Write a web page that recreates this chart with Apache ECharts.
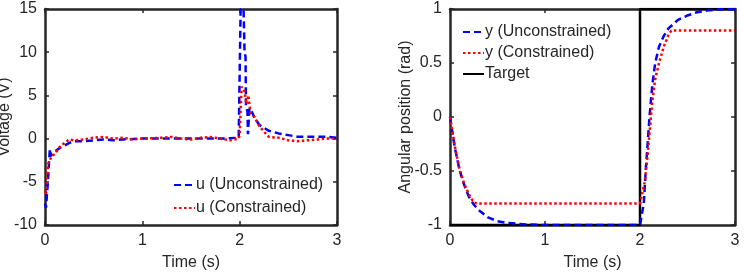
<!DOCTYPE html>
<html>
<head>
<meta charset="utf-8">
<script src="https://cdn.jsdelivr.net/npm/echarts@6/dist/echarts.min.js"></script>
</head>
<body style="margin: 0; background: #fff">
<div id="container" style="width: 745px; height: 272px"></div>
<script>
// left panel: control voltage
var tU = [0, 0.01, 0.02, 0.03, 0.04, 0.05, 0.06, 0.08, 0.1, 0.15, 0.2, 0.25, 0.3, 0.4, 0.5, 0.6, 0.7, 0.8, 1.0, 1.2, 1.4, 1.6, 1.8, 1.99,
          2.0, 2.01, 2.04, 2.05, 2.06, 2.065, 2.08, 2.085, 2.1, 2.12, 2.15, 2.2, 2.3, 2.4, 2.5, 2.6, 2.7, 2.8, 2.9, 3.0];
var uUnc = [-7.5, -8, -7.8, -5, -3, -1.2, -2, -1.8, -1.5, -1.1, -0.8, -0.5, -0.3, -0.3, -0.2, -0.1, -0.2, -0.1, 0, 0, 0, 0, 0, 0.1,
            0.1, 15, 15, 10, 9.5, 3.6, 3.2, 0.5, 3.5, 3.2, 2.5, 1.6, 0.9, 0.6, 0.4, 0.2, 0.2, 0.2, 0.2, 0.1];
var tC = [0, 0.01, 0.02, 0.03, 0.05, 0.07, 0.1, 0.15, 0.2, 0.25, 0.3, 0.4, 0.5, 0.6, 0.7, 0.8, 0.9, 1.0, 1.2, 1.3, 1.4, 1.5, 1.6, 1.7, 1.8, 1.9, 1.99,
          2.0, 2.02, 2.05, 2.07, 2.09, 2.11, 2.15, 2.2, 2.25, 2.3, 2.4, 2.5, 2.6, 2.7, 2.8, 2.9, 3.0];
var uCon = [-6, -6.5, -5, -3, -2.8, -2, -1.8, -1, -0.5, -0.1, -0.2, -0.1, 0.1, 0.2, 0, 0.1, -0.1, 0, 0.1, 0.2, 0, -0.1, 0.1, 0.2, 0, -0.2, 0,
            0.5, 6, 5.5, 4, 5, 3, 2.5, 1.5, 0.8, 0.2, 0.1, -0.2, -0.3, -0.2, -0.1, 0, 0];

// right panel: angular position
var tYU = [0, 0.05, 0.1, 0.15, 0.2, 0.25, 0.3, 0.4, 0.5, 0.6, 0.8, 1.0, 1.5, 2.0, 2.02, 2.04, 2.06, 2.08, 2.1, 2.13, 2.16, 2.2, 2.25, 2.3, 2.4, 2.5, 2.6, 2.7, 2.8, 3.0];
var yUnc = [0, -0.28, -0.49, -0.63, -0.74, -0.81, -0.86, -0.93, -0.965, -0.98, -0.995, -1, -1, -1, -1, -0.8, -0.5, -0.25, 0, 0.3, 0.5, 0.65, 0.75, 0.82, 0.9, 0.94, 0.97, 0.985, 0.995, 1];
var tYC = [0, 0.05, 0.1, 0.15, 0.2, 0.25, 0.28, 2.0, 2.02, 2.05, 2.08, 2.1, 2.13, 2.16, 2.2, 2.25, 2.3, 2.33, 3.0];
var yCon = [0, -0.27, -0.48, -0.62, -0.72, -0.79, -0.8, -0.8, -0.8, -0.6, -0.35, -0.15, 0.15, 0.35, 0.5, 0.65, 0.76, 0.8, 0.8];
var tTarget = [0, 2, 2, 3];
var yTarget = [-1, -1, 1, 1];

function pairs(t, v) {
    return t.map(function (x, i) { return [x, v[i]]; });
}

var font = 'Liberation Sans, Arial, sans-serif';
var ink = '#262626';
var fs = 16;

function frameAxis(gridIndex, pos, min, max, interval, labels, name, nameGap) {
    return {
        type: 'value', gridIndex: gridIndex, position: pos,
        min: min, max: max, interval: interval,
        name: name, nameLocation: 'middle', nameGap: nameGap, nameMoveOverlap: false,
        nameTextStyle: { color: ink, fontSize: fs, fontFamily: font },
        axisLine: { show: true, onZero: false, lineStyle: { color: ink, width: 2.5 } },
        axisTick: { show: true, inside: true, length: 4, lineStyle: { color: ink, width: 1.5 } },
        axisLabel: { show: labels, color: ink, fontSize: fs, fontFamily: font, margin: 8 },
        splitLine: { show: false }
    };
}

var dash = { type: [7, 4], width: 2.5 };
var dot = { type: [2.5, 2.5], width: 2.5 };

function legendBox(left, top, gap, names) {
    return {
        left: left, top: top, orient: 'vertical', itemGap: gap, itemWidth: 21, itemHeight: 10,
        padding: 0,
        itemStyle: { opacity: 0 },
        textStyle: { color: ink, fontSize: fs, fontFamily: font, padding: [0, 0, 0, -4] },
        data: names
    };
}

var option = {
    animation: false,
    grid: [
        { left: 45, top: 9, width: 292, height: 216, outerBoundsMode: 'none', containLabel: false },
        { left: 450, top: 9, width: 285, height: 216, outerBoundsMode: 'none', containLabel: false }
    ],
    xAxis: [
        frameAxis(0, 'bottom', 0, 3, 1, true, 'Time (s)', 30),
        frameAxis(0, 'top', 0, 3, 1, false, '', 0),
        frameAxis(1, 'bottom', 0, 3, 1, true, 'Time (s)', 30),
        frameAxis(1, 'top', 0, 3, 1, false, '', 0)
    ],
    yAxis: [
        frameAxis(0, 'left', -10, 15, 5, true, 'Voltage (V)', 32),
        frameAxis(0, 'right', -10, 15, 5, false, '', 0),
        frameAxis(1, 'left', -1, 1, 0.5, true, 'Angular position (rad)', 36),
        frameAxis(1, 'right', -1, 1, 0.5, false, '', 0)
    ],
    legend: [
        legendBox(173, 177, 7, ['u (Unconstrained)', 'u (Constrained)']),
        legendBox(462, 24, 5, ['y (Unconstrained)', 'y (Constrained)', 'Target'])
    ],
    series: [
        { name: 'u (Unconstrained)', type: 'line', xAxisIndex: 0, yAxisIndex: 0, showSymbol: false, symbol: 'none',
          color: '#0000ff', lineStyle: dash, data: pairs(tU, uUnc) },
        { name: 'u (Constrained)', type: 'line', xAxisIndex: 0, yAxisIndex: 0, showSymbol: false, symbol: 'none',
          color: '#ff0000', lineStyle: dot, data: pairs(tC, uCon) },
        { name: 'Target', type: 'line', xAxisIndex: 2, yAxisIndex: 2, showSymbol: false, symbol: 'none',
          color: '#000000', lineStyle: { width: 2.5 }, data: pairs(tTarget, yTarget) },
        { name: 'y (Unconstrained)', type: 'line', xAxisIndex: 2, yAxisIndex: 2, showSymbol: false, symbol: 'none',
          color: '#0000ff', lineStyle: dash, data: pairs(tYU, yUnc) },
        { name: 'y (Constrained)', type: 'line', xAxisIndex: 2, yAxisIndex: 2, showSymbol: false, symbol: 'none',
          color: '#ff0000', lineStyle: dot, data: pairs(tYC, yCon) }
    ]
};

var myChart = echarts.init(document.getElementById('container'));
myChart.setOption(option);
</script>
</body>
</html>
